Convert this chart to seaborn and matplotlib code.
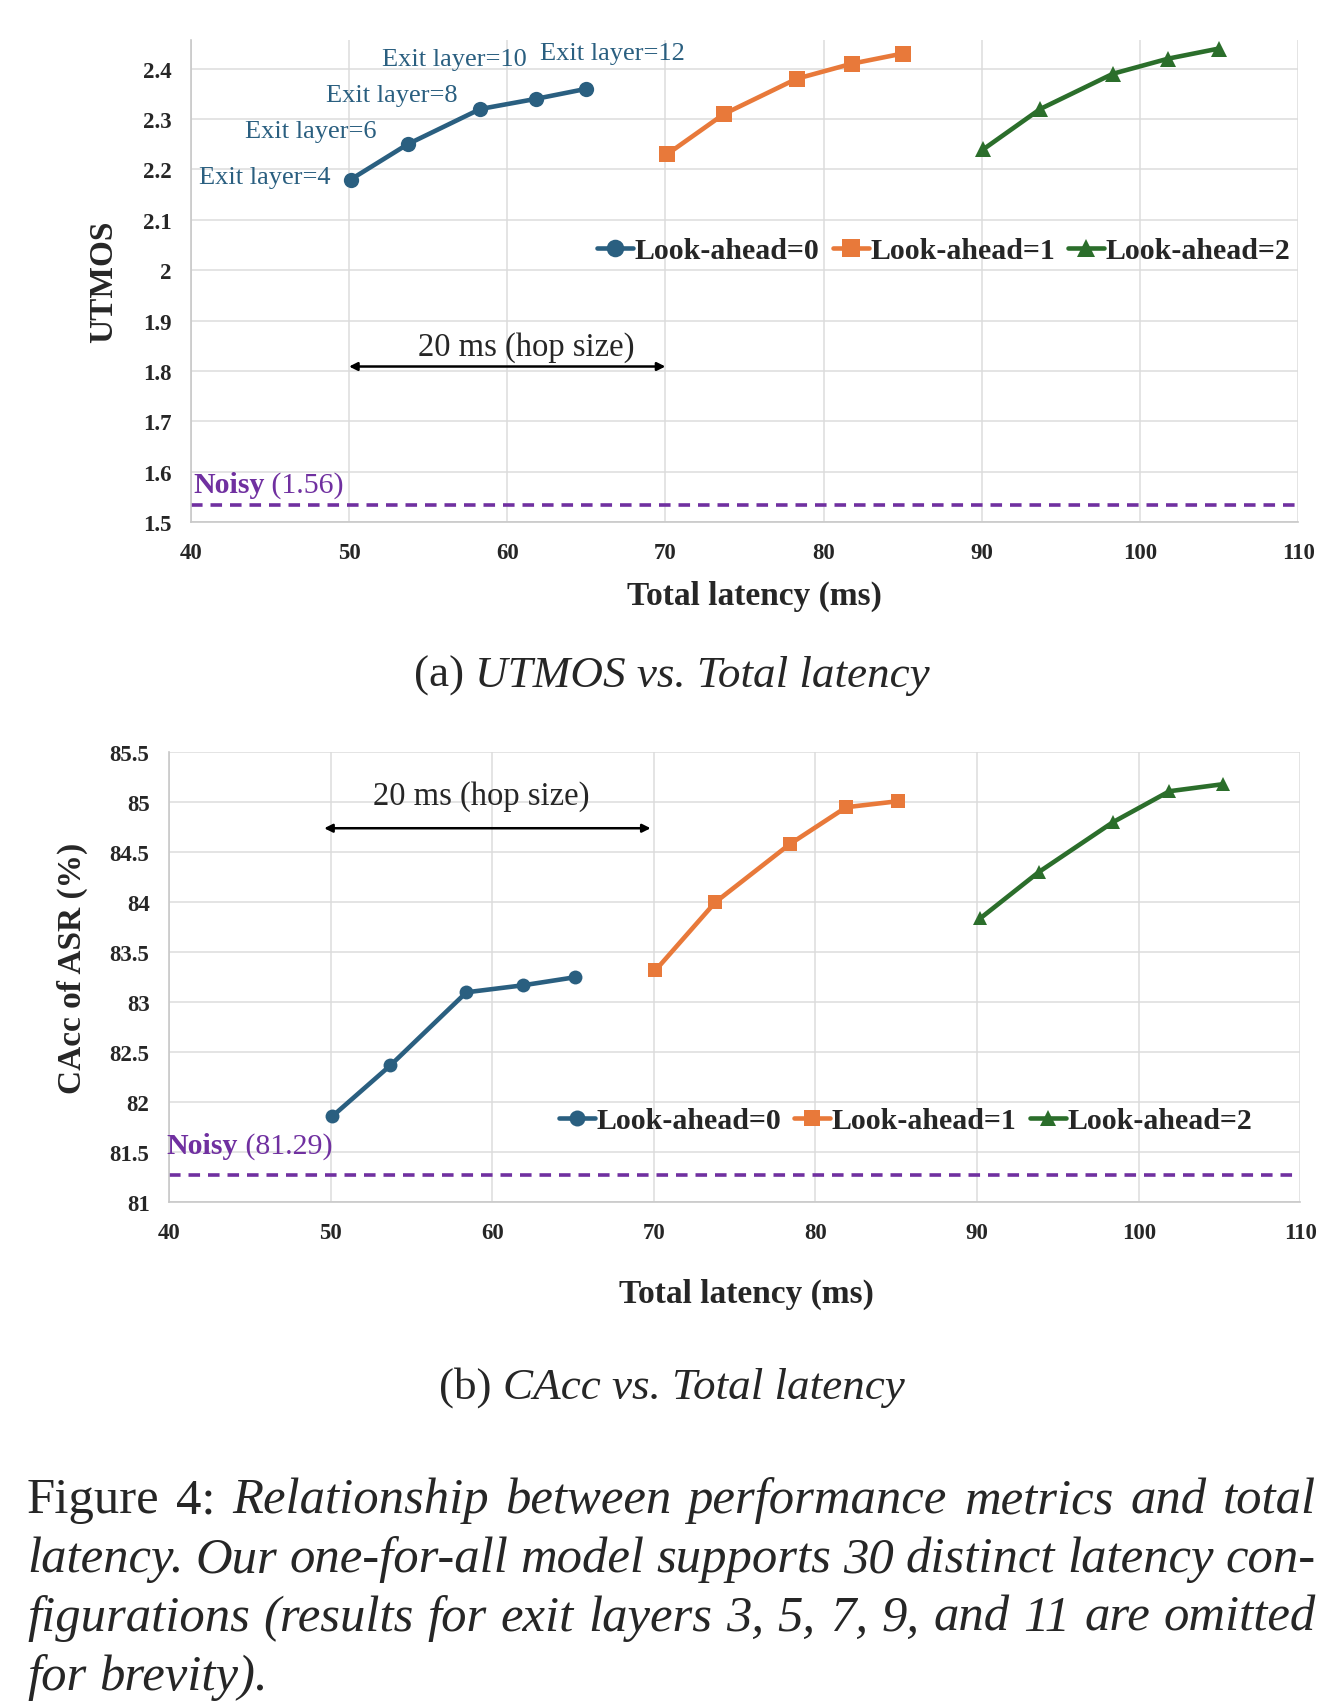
import pandas as pd
import matplotlib
matplotlib.use("Agg")
import matplotlib.pyplot as plt
import matplotlib.transforms as mtransforms
import seaborn as sns

# ---- data ----
lookahead = ["Look-ahead=0", "Look-ahead=1", "Look-ahead=2"]
lat_top = [
    [50.1, 53.7, 58.3, 61.8, 65.0],
    [70.1, 73.7, 78.3, 81.8, 85.0],
    [90.1, 93.7, 98.3, 101.8, 105.0],
]
utmos = [
    [2.18, 2.25, 2.32, 2.34, 2.36],
    [2.23, 2.31, 2.38, 2.41, 2.43],
    [2.24, 2.32, 2.39, 2.42, 2.44],
]
lat_bot = [
    [50.1, 53.7, 58.4, 61.9, 65.1],
    [70.1, 73.8, 78.4, 81.9, 85.1],
    [90.2, 93.8, 98.4, 101.9, 105.2],
]
cacc = [
    [81.86, 82.37, 83.10, 83.17, 83.25],
    [83.32, 84.00, 84.58, 84.95, 85.01],
    [83.84, 84.30, 84.80, 85.11, 85.18],
]
exit_layers = ["Exit layer=4", "Exit layer=6", "Exit layer=8", "Exit layer=10", "Exit layer=12"]
noisy_utmos = 1.535
noisy_cacc = 81.27
hop = [50, 70]

colors = ["#2A5F80", "#E8793A", "#2B6E2B"]
purple = "#7030A0"
markers = ["o", "s", "^"]


def long_df(lat, vals, name):
    rows = []
    for lab, xs, ys in zip(lookahead, lat, vals):
        for x, y in zip(xs, ys):
            rows.append({"latency": x, name: y, "cfg": lab})
    return pd.DataFrame(rows)


df_top = long_df(lat_top, utmos, "utmos")
df_bot = long_df(lat_bot, cacc, "cacc")

sns.set_theme(style="whitegrid")
plt.rcParams["font.family"] = ["Liberation Serif", "DejaVu Serif"]
plt.rcParams["axes.edgecolor"] = "#C8C8C8"
plt.rcParams["grid.color"] = "#DCDCDC"

W, H = 1333, 1706
fig = plt.figure(figsize=(W / 100, H / 100), dpi=100)
fig.patch.set_facecolor("white")

ax1 = fig.add_axes([0.1432, 0.6933, 0.8306, 0.2824])
ax2 = fig.add_axes([0.1268, 0.2946, 0.8487, 0.2639])

for ax, df, col, ms in [(ax1, df_top, "utmos", 11), (ax2, df_bot, "cacc", 10)]:
    sns.lineplot(data=df, x="latency", y=col, hue="cfg", style="cfg",
                 markers=markers, dashes=False, palette=colors, linewidth=3.3,
                 markersize=ms, markeredgewidth=0, ax=ax, legend=True)
    ax.set_facecolor("white")
    ax.grid(True, color="#DCDCDC", linewidth=1.1)
    for s in ["top", "right"]:
        ax.spines[s].set_visible(False)
    for s in ["left", "bottom"]:
        ax.spines[s].set_color("#C8C8C8")
        ax.spines[s].set_linewidth(1.2)
    ax.set_xlim(40, 110)
    ax.set_xticks(range(40, 111, 10))
    ax.tick_params(length=0, labelsize=16.5, pad=14)
    for lab in ax.get_xticklabels() + ax.get_yticklabels():
        lab.set_fontweight("bold")
    ax.yaxis.set_major_formatter(matplotlib.ticker.FormatStrFormatter("%g"))

ax1.set_ylim(1.5, 2.456)
ax1.set_yticks([1.5, 1.6, 1.7, 1.8, 1.9, 2.0, 2.1, 2.2, 2.3, 2.4])
ax2.set_ylim(81, 85.5)
ax2.set_yticks([81, 81.5, 82, 82.5, 83, 83.5, 84, 84.5, 85, 85.5])

# axis labels
ax1.set_xlabel("Total latency (ms)", fontsize=24, fontweight="bold", va="center")
ax1.set_ylabel("UTMOS", fontsize=24, fontweight="bold", va="center")
ax1.xaxis.set_label_coords(0.509, -0.152)
ax1.yaxis.set_label_coords(-0.0788, 0.502)
ax2.set_xlabel("Total latency (ms)", fontsize=24, fontweight="bold", va="center")
ax2.set_ylabel("CAcc of ASR (%)", fontsize=24, fontweight="bold", va="center")
ax2.xaxis.set_label_coords(0.510, -0.203)
ax2.yaxis.set_label_coords(-0.0858, 0.523)

# legends
for ax, loc in [(ax1, (0.68, 0.563)), (ax2, (0.651, 0.182))]:
    h, l = ax.get_legend_handles_labels()
    ax.legend(h, l, ncol=3, loc="center", bbox_to_anchor=loc, frameon=False,
              handlelength=1.2, handletextpad=0.05, columnspacing=0.45,
              markerscale=1.15, prop={"size": 21.5, "weight": "bold"})

# noisy baselines
for ax, yv, txt, off, x0 in [(ax1, noisy_utmos, "(1.56)", 13, 0.002),
                             (ax2, noisy_cacc, "(81.29)", 22, -0.002)]:
    ax.axhline(yv, color=purple, linestyle=(0, (3.2, 2.2)), linewidth=2.6)
    tr = mtransforms.blended_transform_factory(ax.transAxes, ax.transData)
    tr = tr + mtransforms.ScaledTranslation(0, off / 100, fig.dpi_scale_trans)
    t = ax.text(x0, yv, "Noisy", transform=tr, color=purple, fontsize=21.5,
                fontweight="bold", va="baseline")
    ax.annotate(" " + txt, xy=(1, 0), xycoords=t, color=purple, fontsize=21.5,
                va="bottom")

# exit layer labels on top curve
offsets = [(-20, 3, "right"), (-97, 13, "center"), (-89, 14, "center"),
           (-81, 40, "center"), (26, 36, "center")]
for lab, x, y, (ox, oy, ha) in zip(exit_layers, lat_top[0], utmos[0], offsets):
    ax1.annotate(lab, xy=(x, y), xytext=(ox, oy), textcoords="offset pixels",
                 ha=ha, va="center", fontsize=19, color=colors[0])

# hop-size arrows
ax1.annotate("", xy=(hop[0], 1.809), xytext=(hop[1], 1.809),
             arrowprops=dict(arrowstyle="<|-|>", color="black", lw=1.8,
                             mutation_scale=12, shrinkA=0, shrinkB=0))
ax1.text(61.2, 1.848, "20 ms (hop size)", fontsize=23.5, ha="center", va="center")
ax2.annotate("", xy=(hop[0] - 0.4, 84.74), xytext=(hop[1] - 0.2, 84.74),
             arrowprops=dict(arrowstyle="<|-|>", color="black", lw=1.8,
                             mutation_scale=12, shrinkA=0, shrinkB=0))
ax2.text(59.3, 85.07, "20 ms (hop size)", fontsize=23.5, ha="center", va="center")

# ---- sub captions and caption ----
fig.canvas.draw()
r = fig.canvas.get_renderer()


def width_px(t):
    return t.get_window_extent(r).width


def two_part(y, a, b, size, x_center):
    t1 = fig.text(0, y, a, fontsize=size, va="baseline")
    t2 = fig.text(0, y, b, fontsize=size, style="italic", va="baseline")
    w1, w2 = width_px(t1), width_px(t2)
    x0 = x_center * W - (w1 + w2) / 2
    t1.set_x(x0 / W)
    t2.set_x((x0 + w1) / W)


two_part(0.5973, "(a) ", "UTMOS vs. Total latency", 32.5, 0.504)
two_part(0.1800, "(b) ", "CAcc vs. Total latency", 32.5, 0.504)

cap_lines = [
    "Figure 4: Relationship between performance metrics and total",
    "latency. Our one-for-all model supports 30 distinct latency con-",
    "figurations (results for exit layers 3, 5, 7, 9, and 11 are omitted",
    "for brevity).",
]
cap_y = [0.1131, 0.0785, 0.0440, 0.0094]
cap_size = 36.5
left, right = 27, 1316
tmp1 = fig.text(0.5, 0.5, "a b", fontsize=cap_size, style="italic")
tmp2 = fig.text(0.5, 0.5, "ab", fontsize=cap_size, style="italic")
space = width_px(tmp1) - width_px(tmp2)
tmp1.remove()
tmp2.remove()
for i, (line, y) in enumerate(zip(cap_lines, cap_y)):
    words = line.split()
    texts = []
    for j, w in enumerate(words):
        st = "normal" if (i == 0 and j < 2) else "italic"
        texts.append(fig.text(0, y, w, fontsize=cap_size, style=st, va="baseline"))
    widths = [width_px(t) for t in texts]
    if i < len(cap_lines) - 1:
        gap = (right - left - sum(widths)) / (len(words) - 1)
    else:
        gap = space
    x = left
    for t, w in zip(texts, widths):
        t.set_x(x / W)
        x += w + gap

fig.savefig("out.png", dpi=100, facecolor="white")
